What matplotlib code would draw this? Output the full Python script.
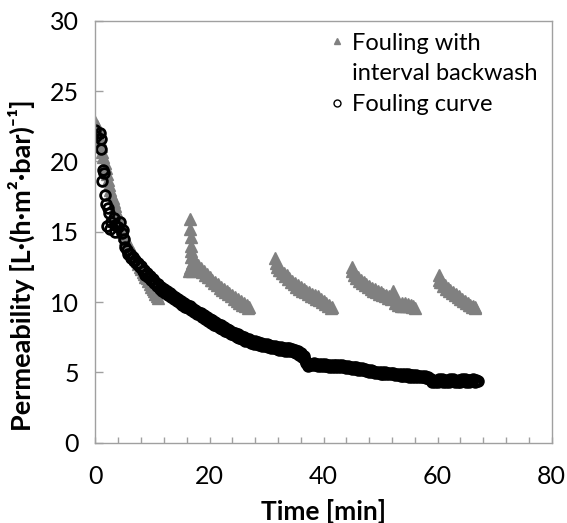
"""Permeability decline with and without interval backwash."""
import matplotlib
matplotlib.use("Agg")
import matplotlib.pyplot as plt
from matplotlib.lines import Line2D
from matplotlib.ticker import MultipleLocator

plt.rcParams["font.family"] = ["Lato", "DejaVu Sans"]

# fouling curve (no backwash): time [min], permeability [L/(h m2 bar)]
fouling_t = [
    0.0, 0.1, 0.8, 1.0, 0.9, 1.4, 1.5, 1.2, 1.7, 1.8, 2.25, 2.3, 2.1, 2.8,
    3.2, 3.5, 4.3, 3.4, 4.9, 5.0, 5.2, 3.9, 4.6, 2.6,
    5.5, 5.75, 6.0, 6.25, 6.5, 6.75, 7.0, 7.25, 7.5, 7.75, 8.0, 8.25, 8.5,
    8.75, 9.0, 9.25, 9.5, 9.75, 10.0,
    10.25, 10.5, 10.75, 11.0, 11.25, 11.5, 11.75, 12.0, 12.25, 12.5, 12.75,
    13.0, 13.25, 13.5, 13.75, 14.0, 14.25, 14.5, 14.75, 15.0,
    15.25, 15.5, 15.75, 16.0, 16.25, 16.5, 16.75, 17.0, 17.25, 17.5, 17.75,
    18.0, 18.25, 18.5, 18.75, 19.0, 19.25, 19.5, 19.75, 20.0,
    20.25, 20.5, 20.75, 21.0, 21.25, 21.5, 21.75, 22.0, 22.25, 22.5, 22.75,
    23.0, 23.25, 23.5, 23.75, 24.0, 24.25, 24.5, 24.75, 25.0,
    25.25, 25.5, 25.75, 26.0, 26.25, 26.5, 26.75, 27.0, 27.25, 27.5, 27.75,
    28.0, 28.25, 28.5, 28.75, 29.0, 29.25, 29.5, 29.75, 30.0,
    30.25, 30.5, 30.75, 31.0, 31.25, 31.5, 31.75, 32.0, 32.25, 32.5, 32.75,
    33.0, 33.25, 33.5, 33.75, 34.0, 34.25, 34.5, 34.75, 35.0,
    35.25, 35.5, 35.75, 36.0, 36.25, 36.5, 36.75, 37.0, 37.25, 37.5, 37.75,
    38.0, 38.25, 38.5, 38.75, 39.0, 39.25, 39.5, 39.75, 40.0,
    40.25, 40.5, 40.75, 41.0, 41.25, 41.5, 41.75, 42.0, 42.25, 42.5, 42.75,
    43.0, 43.25, 43.5, 43.75, 44.0, 44.25, 44.5, 44.75, 45.0,
    45.25, 45.5, 45.75, 46.0, 46.25, 46.5, 46.75, 47.0, 47.25, 47.5, 47.75,
    48.0, 48.25, 48.5, 48.75, 49.0, 49.25, 49.5, 49.75, 50.0,
    50.25, 50.5, 50.75, 51.0, 51.25, 51.5, 51.75, 52.0, 52.25, 52.5, 52.75,
    53.0, 53.25, 53.5, 53.75, 54.0, 54.25, 54.5, 54.75, 55.0,
    55.25, 55.5, 55.75, 56.0, 56.25, 56.5, 56.75, 57.0, 57.25, 57.5, 57.75,
    58.0, 58.25, 58.5, 58.75, 59.0, 59.25, 59.5, 59.75, 60.0,
    60.25, 60.5, 60.75, 61.0, 61.25, 61.5, 61.75, 62.0, 62.25, 62.5, 62.75,
    63.0, 63.25, 63.5, 63.75, 64.0, 64.25, 64.5, 64.75, 65.0,
    65.25, 65.5, 65.75, 66.0, 66.25, 66.5, 66.75, 67.0,
]
fouling_p = [
    22.2, 21.8, 22.0, 21.6, 20.9, 19.4, 19.2, 18.6, 17.6, 17.0, 16.7, 16.3,
    15.4, 15.7, 16.0, 15.5, 15.7, 15.0, 15.1, 14.5, 13.9, 15.3, 14.9, 15.2,
    13.7, 13.4, 13.4, 13.1, 13.2, 12.9, 13.0, 12.7, 12.8, 12.5, 12.55, 12.2,
    12.3, 11.95, 12.05, 11.75, 11.85, 11.55, 11.65,
    11.35, 11.45, 11.15, 11.25, 10.95, 11.1, 10.8, 10.95, 10.65, 10.8, 10.5,
    10.65, 10.35, 10.5, 10.2, 10.35, 10.05, 10.2, 9.95, 10.1,
    9.8, 9.95, 9.65, 9.8, 9.55, 9.7, 9.4, 9.55, 9.3, 9.45, 9.15, 9.3, 9.05,
    9.2, 8.95, 9.1, 8.8, 8.95, 8.65, 8.8,
    8.5, 8.7, 8.4, 8.55, 8.3, 8.45, 8.15, 8.35, 8.05, 8.2, 7.95, 8.1, 7.85,
    8.0, 7.75, 7.9, 7.65, 7.8, 7.55, 7.7,
    7.45, 7.6, 7.35, 7.5, 7.25, 7.4, 7.2, 7.35, 7.1, 7.25, 7.05, 7.2, 7.0,
    7.15, 6.95, 7.1, 6.9, 7.05, 6.85, 7.0,
    6.8, 6.95, 6.75, 6.9, 6.7, 6.85, 6.65, 6.8, 6.6, 6.8, 6.6, 6.75, 6.55,
    6.7, 6.55, 6.7, 6.5, 6.65, 6.45, 6.6,
    6.35, 6.5, 6.25, 6.4, 6.1, 6.2, 5.9, 5.7, 5.45, 5.5, 5.6, 5.5, 5.65, 5.5,
    5.6, 5.45, 5.6, 5.45, 5.6, 5.45,
    5.6, 5.45, 5.55, 5.4, 5.55, 5.4, 5.55, 5.4, 5.5, 5.35, 5.5, 5.35, 5.5,
    5.35, 5.45, 5.3, 5.45, 5.3, 5.4, 5.25,
    5.4, 5.25, 5.35, 5.2, 5.3, 5.15, 5.3, 5.15, 5.25, 5.1, 5.2, 5.05, 5.15,
    5.0, 5.1, 4.95, 5.05, 4.95, 5.05, 4.9,
    5.0, 4.9, 5.0, 4.85, 4.95, 4.85, 4.95, 4.85, 4.95, 4.8, 4.9, 4.8, 4.9,
    4.75, 4.85, 4.75, 4.85, 4.75, 4.85, 4.7,
    4.8, 4.7, 4.8, 4.7, 4.8, 4.65, 4.75, 4.65, 4.75, 4.65, 4.75, 4.6, 4.7,
    4.55, 4.5, 4.35, 4.4, 4.3, 4.4, 4.35,
    4.5, 4.4, 4.5, 4.35, 4.45, 4.3, 4.4, 4.35, 4.5, 4.4, 4.5, 4.3, 4.4, 4.35,
    4.45, 4.35, 4.5, 4.4, 4.5, 4.35,
    4.45, 4.35, 4.45, 4.4, 4.5, 4.35, 4.45, 4.4,
]

# fouling with interval backwash
backwash_t = [
    0.0, 0.2, 0.4, 0.6, 0.8, 1.0, 1.2, 1.4, 1.6, 1.8, 2.0, 2.2, 2.4, 2.6,
    2.8, 3.0, 3.2, 3.4, 3.6, 3.8, 4.0, 4.2, 4.4, 4.6, 4.8, 5.0, 5.25, 5.5,
    5.75, 6.0, 6.25, 6.5, 6.75, 7.0, 7.25, 7.5, 7.75, 8.0, 8.25, 8.5, 8.75,
    9.0, 9.25, 9.5, 9.75, 10.0, 10.25, 10.5, 10.75, 11.0,
    16.6, 16.6, 16.7, 16.7, 16.8, 16.8, 16.9, 16.6, 16.4, 16.9, 17.2, 17.0,
    17.4,
    17.0, 17.25, 17.5, 17.75, 18.0, 18.25, 18.5, 18.75, 19.0, 19.25, 19.5,
    19.75, 20.0, 20.25, 20.5, 20.75, 21.0, 21.25, 21.5, 21.75, 22.0, 22.25,
    22.5, 22.75, 23.0, 23.25, 23.5, 23.75, 24.0, 24.25, 24.5, 24.75, 25.0,
    25.25, 25.5, 25.75, 26.0, 26.25, 26.5, 26.75, 27.0,
    31.5, 31.6, 31.75, 32.0, 32.25, 32.5, 32.75, 33.0, 33.25, 33.5, 33.75,
    34.0, 34.25, 34.5, 34.75, 35.0, 35.25, 35.5, 35.75, 36.0, 36.25, 36.5,
    36.75, 37.0, 37.25, 37.5, 37.75, 38.0, 38.25, 38.5, 38.75, 39.0, 39.25,
    39.5, 39.75, 40.0, 40.25, 40.5, 40.75, 41.0, 41.25, 41.4,
    44.9, 45.0, 45.25, 45.5, 45.75, 46.0, 46.25, 46.5, 46.75, 47.0, 47.25,
    47.5, 47.75, 48.0, 48.25, 48.5, 48.75, 49.0, 49.25, 49.5, 49.75, 50.0,
    50.25, 50.5, 50.75, 51.0, 51.25, 51.5, 51.75, 52.0, 52.2, 52.4, 52.6,
    52.75, 53.0, 53.25, 53.5, 53.75, 54.0, 54.25, 54.5, 54.75, 55.0, 55.25,
    55.5, 55.75, 56.0,
    60.2, 60.3, 60.5, 60.75, 61.0, 61.25, 61.5, 61.75, 62.0, 62.25, 62.5,
    62.75, 63.0, 63.25, 63.5, 63.75, 64.0, 64.25, 64.5, 64.75, 65.0, 65.25,
    65.5, 65.75, 66.0, 66.25, 66.5, 66.6,
]
backwash_p = [
    22.8, 22.5, 22.2, 21.8, 21.5, 21.1, 20.7, 20.3, 19.9, 19.5, 19.1, 18.7,
    18.35, 18.0, 17.7, 17.4, 17.1, 16.8, 16.5, 16.25, 16.0, 15.75, 15.5,
    15.25, 15.0, 14.8, 14.5, 14.3, 14.05, 13.9, 13.65, 13.5, 13.25, 13.1,
    12.9, 12.7, 12.5, 12.35, 12.15, 12.0, 11.8, 11.7, 11.5, 11.3, 11.1, 10.9,
    10.75, 10.6, 10.4, 10.3,
    15.9, 15.2, 14.6, 14.0, 13.6, 13.2, 12.8, 12.4, 12.2, 12.2, 12.3, 12.6,
    12.5,
    13.3, 12.9, 12.9, 12.6, 12.65, 12.35, 12.45, 12.15, 12.2, 11.95, 12.0,
    11.75, 11.8, 11.55, 11.6, 11.35, 11.45, 11.2, 11.25, 11.0, 11.1, 10.85,
    10.95, 10.7, 10.8, 10.55, 10.65, 10.4, 10.5, 10.25, 10.35, 10.1, 10.2,
    9.95, 10.05, 9.8, 9.9, 9.7, 9.8, 9.6, 9.65,
    13.1, 12.8, 12.5, 12.55, 12.25, 12.3, 12.05, 12.1, 11.85, 11.9, 11.65,
    11.7, 11.45, 11.5, 11.3, 11.35, 11.1, 11.2, 10.95, 11.05, 10.8, 10.9,
    10.7, 10.8, 10.55, 10.7, 10.45, 10.6, 10.35, 10.5, 10.25, 10.4, 10.15,
    10.25, 10.0, 10.1, 9.85, 9.95, 9.7, 9.8, 9.6, 9.65,
    12.5, 12.2, 11.95, 12.0, 11.7, 11.8, 11.5, 11.6, 11.35, 11.45, 11.2,
    11.3, 11.05, 11.15, 10.9, 11.0, 10.8, 10.9, 10.7, 10.8, 10.6, 10.7, 10.5,
    10.6, 10.4, 10.5, 10.3, 10.4, 10.25, 10.5, 10.75, 10.35, 9.9, 10.0, 9.8,
    9.95, 9.75, 9.9, 9.75, 9.9, 9.7, 9.85, 9.7, 9.8, 9.65, 9.7, 9.6,
    11.9, 11.6, 11.45, 11.4, 11.15, 11.2, 10.95, 11.0, 10.8, 10.85, 10.65,
    10.7, 10.5, 10.55, 10.35, 10.4, 10.2, 10.25, 10.05, 10.1, 9.9, 9.95, 9.8,
    9.8, 9.65, 9.7, 9.6, 9.65,
]

legend_labels = ["Fouling with", "interval backwash", "Fouling curve"]

fig = plt.figure(figsize=(5.67, 5.23), dpi=100)
ax = fig.add_axes([0.1684, 0.1535, 0.8046, 0.8069])

ax.plot(backwash_t, backwash_p, ls="none", marker="^", ms=8.5,
        color="#808080", mec="#808080")
ax.plot(fouling_t, fouling_p, ls="none", marker="o", ms=7,
        mfc="none", mec="black", mew=2)

ax.set_xlim(0, 80)
ax.set_ylim(0, 30)
ax.xaxis.set_major_locator(MultipleLocator(20))
ax.xaxis.set_minor_locator(MultipleLocator(4))
ax.yaxis.set_major_locator(MultipleLocator(5))
ax.tick_params(which="both", direction="in", color="#a0a0a0", width=1,
               labelsize=18)
ax.tick_params(axis="x", which="both", length=4.5, pad=16)
ax.tick_params(axis="y", length=6, pad=12)
for s in ax.spines.values():
    s.set_color("#a0a0a0")
    s.set_linewidth(1)

ax.set_xlabel("Time [min]", fontsize=19, fontweight="bold", labelpad=8)
ax.set_ylabel("Permeability [L·(h·m²·bar)⁻¹]", fontsize=19.5,
              fontweight="bold")
ax.yaxis.set_label_coords(-0.132, 0.42)

# second text line of the first entry gets an empty handle so the
# triangle sits next to the first line only
handles = [
    Line2D([], [], ls="none", marker="^", ms=5, color="#808080"),
    Line2D([], [], ls="none", marker=None),
    Line2D([], [], ls="none", marker="o", ms=5, mfc="none", mec="black",
           mew=1),
]
ax.legend(handles, legend_labels, loc="upper left",
          bbox_to_anchor=(0.485, 1.0), frameon=False, fontsize=17,
          handlelength=0.7, handletextpad=0.3, labelspacing=0.42,
          borderaxespad=0.1)

fig.savefig("out.png", dpi=100)
plt.close(fig)
